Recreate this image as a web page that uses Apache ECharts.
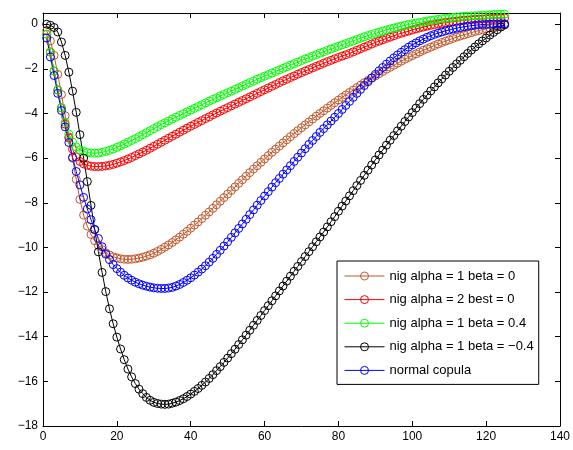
<!DOCTYPE html>
<html>
<head>
<meta charset="utf-8">
<script src="https://cdn.jsdelivr.net/npm/echarts@6/dist/echarts.min.js"></script>
<style>html,body{margin:0;padding:0;background:#fff}#c{width:573px;height:450px}</style>
</head>
<body>
<div id="c"></div>
<script>
var xs = [1,2,3,4,5,6,7,8,9,10,11,12,13,14,15,16,17,18,19,20,21,22,23,24,25,26,27,28,29,30,31,32,33,34,35,36,37,38,39,40,41,42,43,44,45,46,47,48,49,50,51,52,53,54,55,56,57,58,59,60,61,62,63,64,65,66,67,68,69,70,71,72,73,74,75,76,77,78,79,80,81,82,83,84,85,86,87,88,89,90,91,92,93,94,95,96,97,98,99,100,101,102,103,104,105,106,107,108,109,110,111,112,113,114,115,116,117,118,119,120,121,122,123,124,125];

var seriesNames = ['nig alpha = 1 beta = 0', 'nig alpha = 2 best = 0', 'nig alpha = 1 beta = 0.4', 'nig alpha = 1 beta = \u22120.4', 'normal copula'];

var brownVals = [-0.28,-0.75,-1.40,-2.25,-3.15,-4.10,-5.05,-6.00,-6.95,-7.85,-8.55,-9.05,-9.42,-9.70,-9.92,-10.10,-10.24,-10.34,-10.42,-10.47,-10.51,-10.53,-10.54,-10.53,-10.51,-10.48,-10.44,-10.39,-10.33,-10.26,-10.18,-10.09,-9.99,-9.89,-9.78,-9.66,-9.54,-9.41,-9.28,-9.14,-9.00,-8.86,-8.71,-8.56,-8.41,-8.25,-8.09,-7.93,-7.77,-7.61,-7.45,-7.29,-7.13,-6.97,-6.81,-6.65,-6.49,-6.34,-6.19,-6.04,-5.89,-5.74,-5.60,-5.46,-5.32,-5.18,-5.04,-4.90,-4.77,-4.64,-4.51,-4.38,-4.25,-4.12,-4.00,-3.88,-3.76,-3.64,-3.52,-3.40,-3.28,-3.17,-3.06,-2.95,-2.84,-2.73,-2.62,-2.52,-2.42,-2.32,-2.22,-2.12,-2.02,-1.93,-1.84,-1.75,-1.66,-1.57,-1.49,-1.41,-1.33,-1.25,-1.17,-1.10,-1.03,-0.96,-0.89,-0.82,-0.76,-0.70,-0.64,-0.58,-0.53,-0.48,-0.43,-0.38,-0.33,-0.29,-0.25,-0.21,-0.17,-0.13,-0.10,-0.07,-0.04];

var redVals = [-0.45,-1.25,-2.10,-2.95,-3.75,-4.48,-5.10,-5.60,-5.95,-6.15,-6.26,-6.32,-6.36,-6.38,-6.38,-6.37,-6.35,-6.32,-6.28,-6.23,-6.17,-6.11,-6.04,-5.97,-5.89,-5.81,-5.73,-5.65,-5.56,-5.47,-5.38,-5.29,-5.20,-5.11,-5.02,-4.93,-4.84,-4.75,-4.66,-4.57,-4.49,-4.40,-4.32,-4.23,-4.15,-4.06,-3.98,-3.90,-3.82,-3.74,-3.66,-3.58,-3.50,-3.42,-3.34,-3.26,-3.18,-3.10,-3.02,-2.94,-2.86,-2.78,-2.70,-2.62,-2.54,-2.47,-2.39,-2.32,-2.24,-2.17,-2.10,-2.03,-1.96,-1.89,-1.82,-1.75,-1.68,-1.62,-1.55,-1.49,-1.43,-1.37,-1.31,-1.24,-1.17,-1.10,-1.03,-0.96,-0.89,-0.82,-0.76,-0.70,-0.64,-0.58,-0.52,-0.46,-0.41,-0.36,-0.31,-0.26,-0.21,-0.17,-0.13,-0.09,-0.05,-0.02,0.01,0.04,0.07,0.09,0.11,0.13,0.15,0.17,0.18,0.20,0.21,0.22,0.23,0.24,0.25,0.26,0.27,0.27,0.28];

var greenVals = [-0.45,-1.25,-2.10,-2.95,-3.75,-4.40,-4.92,-5.28,-5.50,-5.63,-5.70,-5.75,-5.77,-5.78,-5.77,-5.74,-5.70,-5.65,-5.59,-5.52,-5.45,-5.37,-5.29,-5.21,-5.13,-5.04,-4.95,-4.86,-4.77,-4.68,-4.59,-4.50,-4.42,-4.33,-4.25,-4.17,-4.09,-4.01,-3.93,-3.85,-3.77,-3.69,-3.61,-3.53,-3.45,-3.37,-3.30,-3.22,-3.15,-3.07,-3.00,-2.92,-2.85,-2.77,-2.70,-2.62,-2.55,-2.47,-2.40,-2.33,-2.26,-2.19,-2.12,-2.05,-1.98,-1.91,-1.84,-1.77,-1.70,-1.63,-1.56,-1.50,-1.43,-1.37,-1.30,-1.24,-1.17,-1.11,-1.05,-0.99,-0.93,-0.87,-0.81,-0.75,-0.69,-0.63,-0.57,-0.51,-0.46,-0.41,-0.36,-0.31,-0.26,-0.21,-0.17,-0.13,-0.09,-0.05,-0.01,0.02,0.05,0.08,0.11,0.14,0.17,0.19,0.22,0.24,0.26,0.28,0.30,0.32,0.33,0.35,0.36,0.37,0.38,0.39,0.40,0.41,0.42,0.43,0.44,0.44,0.45];

var blackVals = [0.00,-0.05,-0.15,-0.35,-0.80,-1.40,-2.15,-3.00,-3.95,-4.95,-6.00,-7.05,-8.12,-9.20,-10.20,-11.12,-11.98,-12.75,-13.42,-14.02,-14.55,-15.03,-15.45,-15.80,-16.10,-16.35,-16.55,-16.72,-16.85,-16.94,-16.99,-17.02,-17.03,-17.02,-16.98,-16.93,-16.86,-16.78,-16.68,-16.57,-16.45,-16.32,-16.18,-16.03,-15.87,-15.70,-15.52,-15.34,-15.15,-14.96,-14.76,-14.56,-14.35,-14.14,-13.93,-13.71,-13.49,-13.27,-13.05,-12.83,-12.61,-12.39,-12.17,-11.95,-11.73,-11.51,-11.29,-11.07,-10.85,-10.63,-10.41,-10.19,-9.97,-9.75,-9.53,-9.31,-9.08,-8.85,-8.62,-8.38,-8.15,-7.92,-7.69,-7.46,-7.23,-7.00,-6.77,-6.54,-6.31,-6.08,-5.86,-5.64,-5.42,-5.20,-4.99,-4.78,-4.57,-4.36,-4.16,-3.96,-3.76,-3.56,-3.37,-3.18,-2.99,-2.81,-2.63,-2.45,-2.28,-2.11,-1.94,-1.78,-1.62,-1.46,-1.31,-1.16,-1.02,-0.88,-0.75,-0.62,-0.49,-0.37,-0.25,-0.13,-0.02];

var blueVals = [-0.62,-1.47,-2.30,-3.10,-3.87,-4.60,-5.30,-5.97,-6.60,-7.20,-7.76,-8.28,-8.76,-9.20,-9.60,-9.97,-10.30,-10.55,-10.77,-10.95,-11.11,-11.25,-11.37,-11.47,-11.56,-11.63,-11.69,-11.74,-11.78,-11.81,-11.83,-11.84,-11.84,-11.82,-11.79,-11.73,-11.66,-11.57,-11.47,-11.36,-11.24,-11.11,-10.97,-10.82,-10.66,-10.49,-10.31,-10.13,-9.94,-9.75,-9.55,-9.35,-9.15,-8.95,-8.74,-8.53,-8.32,-8.11,-7.90,-7.70,-7.50,-7.30,-7.10,-6.91,-6.72,-6.53,-6.34,-6.15,-5.96,-5.77,-5.58,-5.39,-5.21,-5.03,-4.85,-4.68,-4.51,-4.34,-4.17,-4.00,-3.82,-3.64,-3.46,-3.28,-3.10,-2.92,-2.75,-2.58,-2.41,-2.25,-2.09,-1.94,-1.79,-1.65,-1.51,-1.38,-1.26,-1.14,-1.03,-0.93,-0.84,-0.75,-0.67,-0.59,-0.52,-0.46,-0.40,-0.35,-0.30,-0.26,-0.22,-0.18,-0.15,-0.12,-0.09,-0.07,-0.05,-0.03,-0.02,-0.01,0.00,0.01,0.01,0.02,0.02];

var xTicks = [0, 20, 40, 60, 80, 100, 120, 140];
var yTicks = [-18, -16, -14, -12, -10, -8, -6, -4, -2, 0];

var colors = ['#c0582a', '#ff0000', '#00ff00', '#000000', '#0000ff'];
var allVals = [brownVals, redVals, greenVals, blackVals, blueVals];

function pairs(vals) {
  return xs.map(function (x, i) { return [x, vals[i]]; });
}
function fmt(v) {
  if (yTicks.indexOf(v) < 0 && xTicks.indexOf(v) < 0) return '';
  return String(v).replace('-', '\u2212');
}

var chart = echarts.init(document.getElementById('c'), null, {renderer: 'canvas'});
var font = 'Liberation Sans, Arial, Helvetica, sans-serif';
var axisCommon = {
  axisLine: {show: true, onZero: false, lineStyle: {color: '#000', width: 1}},
  axisTick: {show: true, inside: true, length: 5, lineStyle: {color: '#000', width: 1}},
  splitLine: {show: false}
};

var series = allVals.map(function (vals, k) {
  return {
    name: seriesNames[k],
    type: 'line',
    data: pairs(vals),
    symbol: 'circle',
    symbolSize: 8,
    showAllSymbol: true,
    clip: false,
    color: colors[k],
    lineStyle: {color: colors[k], width: 1},
    itemStyle: {color: 'rgba(255,255,255,0)', borderColor: colors[k], borderWidth: 1},
    emphasis: {disabled: true},
    animation: false
  };
});

chart.setOption({
  animation: false,
  backgroundColor: '#fff',
  grid: {left: 43, right: 11, top: 13, bottom: 24, containLabel: false},
  xAxis: [
    Object.assign({type: 'value', min: 0, max: 140, interval: 20, position: 'bottom',
      axisLabel: {show: true, color: '#000', fontSize: 12, fontFamily: font, margin: 5, formatter: fmt}}, axisCommon),
    Object.assign({type: 'value', min: 0, max: 140, interval: 20, position: 'top',
      axisLabel: {show: false}}, axisCommon)
  ],
  yAxis: [
    Object.assign({type: 'value', min: -18, max: 0.5, interval: 2, position: 'left',
      axisLabel: {show: true, color: '#000', fontSize: 12, fontFamily: font, margin: 5, formatter: fmt}}, axisCommon),
    Object.assign({type: 'value', min: -18, max: 0.5, interval: 2, position: 'right',
      axisLabel: {show: false}}, axisCommon)
  ],
  legend: {
    show: true,
    orient: 'vertical',
    left: 337,
    top: 261,
    padding: [8, 5, 7, 7],
    itemWidth: 40,
    itemHeight: 10,
    itemGap: 9.6,
    backgroundColor: '#fff',
    borderColor: '#000',
    borderWidth: 1,
    borderRadius: 0,
    selectedMode: false,
    lineStyle: {width: 1},
    itemStyle: {borderWidth: 1},
    textStyle: {color: '#000', fontSize: 13, fontFamily: font, lineHeight: 14},
    data: seriesNames
  },
  series: series
});
</script>
</body>
</html>
